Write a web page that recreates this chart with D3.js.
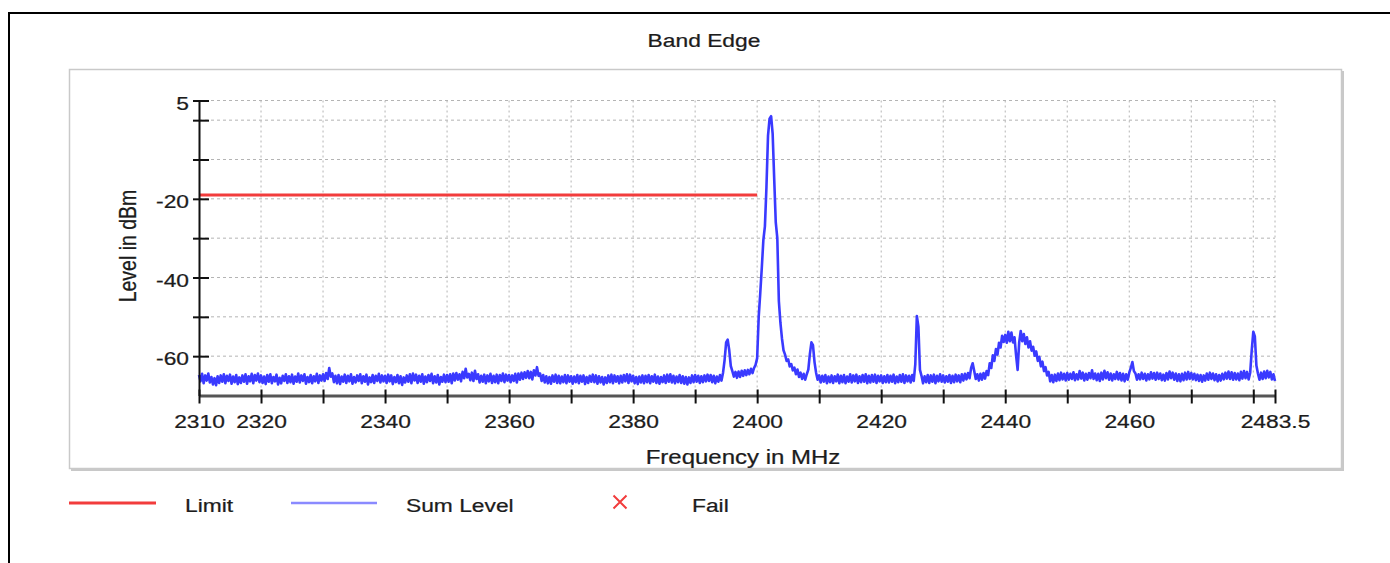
<!DOCTYPE html>
<html>
<head>
<meta charset="utf-8">
<script src="https://cdn.jsdelivr.net/npm/d3@7/dist/d3.min.js"></script>
<style>
  html, body { margin: 0; padding: 0; background: #fff; }
  svg { display: block; }
  text { font-family: "Liberation Sans", Arial, sans-serif; fill: #1c1c1c; stroke: #1c1c1c; stroke-width: 0.25px; }
</style>
</head>
<body>
<svg id="chart" width="1390" height="563"></svg>
<script>
// ---- Sweep data: Sum Level (dBm), one value every 0.25 MHz from 2310 to 2483.5 MHz ----
const startMHz = 2310;
const stepMHz = 0.25;
const sumLevel = [
  // 2310
  -64.8,-66.4,-64.5,-66.9,-64.9,-66.2,-64.4,-66.7,-65.3,-67.2,-65.6,-67.4,-65.1,-66.8,-64.9,-66.5,-64.6,-66.9,-65.0,-66.3,
  -64.7,-67.0,-65.2,-66.6,-64.8,-67.1,-65.4,-66.8,-64.9,-66.5,-64.6,-67.0,-65.1,-66.4,-64.5,-66.9,-64.8,-66.2,-64.4,-66.6,
  // 2320
  -64.9,-66.8,-65.2,-67.1,-64.8,-66.5,-64.6,-66.9,-65.3,-66.4,-64.7,-67.2,-65.5,-66.9,-65.0,-66.3,-64.6,-66.8,-65.1,-66.6,
  -64.7,-67.0,-65.2,-66.5,-64.4,-66.7,-64.9,-66.3,-64.6,-67.0,-65.3,-66.6,-64.8,-66.9,-65.1,-66.4,-64.5,-66.8,-64.9,-66.2,
  // 2330
  -64.6,-66.3,-64.3,-65.8,-63.0,-65.2,-64.4,-66.6,-65.0,-66.9,-64.8,-67.1,-65.2,-66.5,-64.7,-66.8,-65.0,-66.4,-64.6,-67.0,
  -65.3,-66.7,-64.9,-66.3,-64.6,-66.9,-65.1,-66.5,-64.7,-67.2,-65.4,-66.6,-64.8,-66.8,-65.0,-66.3,-64.5,-66.7,-64.9,-66.4,
  // 2340
  -65.0,-66.8,-64.7,-66.4,-64.9,-67.1,-65.3,-66.6,-64.8,-66.9,-65.1,-67.3,-65.4,-66.7,-64.9,-66.5,-64.6,-66.9,-64.4,-66.2,
  -64.7,-66.8,-65.0,-66.5,-64.6,-67.0,-65.2,-66.6,-64.8,-66.3,-64.5,-66.9,-65.1,-66.7,-64.8,-67.2,-65.3,-66.5,-64.7,-66.6,
  // 2350
  -64.8,-66.5,-64.6,-66.9,-64.4,-66.2,-64.3,-66.0,-64.6,-66.4,-64.0,-65.6,-63.2,-65.4,-64.5,-66.1,-64.2,-66.3,-63.7,-65.8,
  -64.6,-66.7,-65.0,-66.5,-64.7,-66.9,-64.9,-66.4,-64.5,-66.8,-65.0,-66.6,-64.7,-66.9,-64.8,-66.3,-64.4,-66.6,-64.7,-66.2,
  // 2360
  -64.8,-66.6,-64.9,-66.3,-64.5,-66.7,-64.4,-66.0,-64.2,-65.8,-64.1,-65.5,-63.8,-65.6,-64.0,-65.9,-63.6,-64.9,-62.8,-65.0,
  -64.4,-66.3,-64.8,-66.7,-65.1,-66.9,-65.3,-67.0,-64.9,-66.5,-64.7,-66.8,-65.0,-66.9,-65.2,-66.6,-64.8,-66.9,-64.9,-66.5,
  // 2370
  -65.1,-67.0,-65.2,-66.6,-64.8,-66.9,-65.0,-66.5,-64.9,-67.1,-65.3,-66.8,-65.0,-66.5,-64.7,-66.6,-64.9,-67.0,-65.1,-66.7,
  -65.3,-67.2,-65.4,-66.8,-64.9,-66.6,-64.7,-66.9,-64.9,-66.5,-65.1,-66.9,-65.0,-66.7,-64.8,-66.4,-64.6,-66.8,-64.7,-66.4,
  // 2380
  -65.0,-66.9,-65.3,-67.1,-65.2,-66.7,-64.9,-66.9,-65.0,-66.6,-64.8,-66.9,-65.1,-66.5,-64.7,-66.8,-65.2,-67.0,-65.3,-66.6,
  -64.9,-66.8,-64.7,-66.5,-64.6,-66.7,-65.0,-66.9,-65.2,-66.6,-64.8,-66.8,-65.1,-67.0,-65.3,-67.2,-65.4,-66.8,-64.9,-66.6,
  // 2390
  -64.8,-66.5,-65.0,-66.8,-65.1,-66.6,-64.9,-66.4,-64.7,-66.3,-64.8,-66.6,-65.0,-66.9,-65.2,-66.5,-64.8,-66.2,-64.2,-61.0,
  -56.5,-55.8,-58.5,-62.5,-63.8,-65.2,-64.0,-65.5,-63.9,-65.3,-63.7,-65.0,-63.6,-64.8,-63.5,-64.6,-63.2,-64.3,-63.0,-62.2,
  // 2400
  -60.5,-50.0,-44.0,-37.5,-30.5,-27.0,-17.0,-4.0,0.4,1.0,-3.5,-15.0,-26.0,-30.0,-46.0,-51.5,-55.5,-58.5,-59.6,-61.2,
  -60.8,-62.6,-62.0,-63.6,-62.9,-64.6,-63.4,-65.3,-64.2,-65.8,-64.5,-66.0,-64.6,-63.4,-59.5,-56.5,-57.2,-61.5,-64.2,-66.0,
  // 2410
  -64.9,-66.7,-65.0,-66.5,-64.8,-66.9,-65.2,-66.6,-64.9,-66.8,-65.1,-66.4,-64.7,-66.9,-65.0,-66.6,-64.8,-66.9,-65.2,-66.5,
  -64.6,-66.7,-64.9,-66.4,-64.7,-66.8,-65.1,-66.6,-64.8,-66.5,-64.6,-66.9,-65.0,-66.7,-64.8,-66.5,-64.7,-66.8,-65.0,-66.4,
  // 2420
  -64.9,-66.8,-65.1,-66.6,-64.8,-66.7,-65.0,-66.5,-64.7,-66.9,-65.2,-66.6,-64.8,-66.5,-64.6,-66.8,-64.9,-66.4,-65.0,-66.7,
  -64.8,-66.3,-62.0,-49.8,-52.5,-63.5,-65.0,-66.9,-65.1,-66.6,-64.8,-66.8,-64.9,-66.5,-64.7,-66.9,-65.0,-66.4,-64.6,-66.5,
  // 2430
  -64.9,-66.7,-65.1,-66.5,-64.8,-66.8,-65.0,-66.6,-64.7,-66.4,-64.9,-66.6,-64.6,-66.2,-64.5,-65.9,-64.3,-65.6,-63.0,-61.8,
  -63.8,-65.8,-64.6,-66.2,-64.5,-66.0,-64.3,-65.7,-63.8,-64.8,-61.8,-63.0,-59.8,-61.2,-58.2,-59.6,-56.6,-57.8,-54.8,-56.4,
  // 2440
  -54.6,-56.6,-53.8,-56.2,-54.0,-56.5,-55.2,-59.8,-63.5,-56.5,-53.6,-56.2,-54.4,-56.9,-55.2,-57.8,-56.2,-58.6,-57.6,-59.9,
  -58.8,-61.2,-60.2,-62.6,-61.4,-63.8,-62.8,-64.9,-64.0,-66.4,-64.8,-66.6,-64.7,-66.3,-64.4,-66.1,-64.2,-65.9,-64.5,-66.2,
  // 2450
  -64.3,-66.0,-64.5,-65.8,-64.1,-66.1,-64.6,-65.9,-63.8,-65.7,-64.2,-66.2,-64.5,-66.0,-64.3,-65.6,-63.6,-65.8,-64.4,-66.1,
  -64.5,-66.3,-64.2,-65.9,-63.7,-65.6,-64.1,-66.0,-64.4,-66.2,-64.6,-65.8,-64.0,-65.9,-64.3,-66.2,-64.5,-66.4,-64.6,-66.0,
  // 2460
  -64.2,-63.0,-61.5,-63.8,-64.4,-66.0,-64.6,-65.9,-64.2,-65.8,-64.5,-66.2,-64.6,-65.9,-64.1,-65.7,-64.3,-66.0,-64.2,-65.8,
  -64.4,-66.1,-64.7,-66.2,-64.3,-65.9,-63.9,-65.6,-64.2,-66.0,-64.4,-66.3,-64.6,-66.4,-64.5,-66.1,-64.2,-65.9,-64.0,-65.8,
  // 2470
  -64.3,-65.9,-64.5,-66.1,-64.7,-66.3,-64.8,-66.5,-64.9,-66.2,-64.4,-66.0,-64.2,-65.8,-64.4,-66.1,-64.6,-66.4,-64.8,-66.2,
  -64.5,-65.9,-64.2,-65.7,-63.9,-65.8,-64.1,-66.0,-64.3,-65.9,-64.4,-66.1,-64.0,-65.7,-63.8,-65.6,-64.0,-65.9,-64.2,-58.5,
  // 2480 .. 2483.5
  -53.8,-55.0,-62.4,-64.4,-66.0,-64.2,-65.8,-63.9,-65.6,-63.7,-65.4,-64.0,-65.9,-64.6,-66.3
];

// ---- Limit line (dBm) ----
const limitFreq = [2310, 2400];
const limitLevel = [-19.0, -19.0];

// ---- Axes ----
const xDomain = [2310, 2483.5];
const yDomain = [-70, 5];
const xTicks = [2310, 2320, 2330, 2340, 2350, 2360, 2370, 2380, 2390, 2400, 2410, 2420, 2430, 2440, 2450, 2460, 2470, 2480, 2483.5];
const xTickLabels = ["2310", "2320", "", "2340", "", "2360", "", "2380", "", "2400", "", "2420", "", "2440", "", "2460", "", "", "2483.5"];
const yTicks = [5, 0, -10, -20, -30, -40, -50, -60];
const yTickLabels = ["5", "", "", "-20", "", "-40", "", "-60"];

// ---- Text ----
const titleText = "Band Edge";
const xTitle = "Frequency in MHz";
const yTitle = "Level in dBm";
const legendItems = ["Limit", "Sum Level", "Fail"];

// ---- Drawing ----
const svg = d3.select("#chart");
const SX = 1.2;              // horizontal glyph stretch
const RED = "#f23c3c";
const BLUE = "#3a3aff";

const x = d3.scaleLinear().domain(xDomain).range([199, 1275]);
const y = d3.scaleLinear().domain(yDomain).range([395.5, 100.5]);

function label(g, px, py, str, anchor, size, rotate) {
  return g.append("text")
    .attr("transform", `translate(${px},${py}) scale(${SX},1)` + (rotate ? ` rotate(${rotate})` : ""))
    .attr("text-anchor", anchor)
    .attr("dominant-baseline", "central")
    .style("font-size", size + "px")
    .text(str);
}

// outer frame
svg.append("line").attr("x1", 8).attr("x2", 1390).attr("y1", 13).attr("y2", 13)
  .attr("stroke", "#000").attr("stroke-width", 2);
svg.append("line").attr("x1", 9).attr("x2", 9).attr("y1", 12).attr("y2", 563)
  .attr("stroke", "#000").attr("stroke-width", 2);

// panel with soft shadow on right/bottom
svg.append("rect").attr("x", 71).attr("y", 71).attr("width", 1273).attr("height", 400)
  .attr("fill", "#c8c8c8");
svg.append("rect").attr("x", 69.5).attr("y", 69.5).attr("width", 1272).attr("height", 399)
  .attr("fill", "#fff").attr("stroke", "#c9c9c9").attr("stroke-width", 1.5);

// title
label(svg, 704, 40, titleText, "middle", 19);

// grid
const grid = svg.append("g").attr("stroke", "#b4b4b4").attr("stroke-width", 1);
grid.selectAll("line.h").data(yTicks).join("line").attr("class", "h")
  .attr("x1", x(xDomain[0])).attr("x2", x(xDomain[1]))
  .attr("y1", d => y(d)).attr("y2", d => y(d))
  .attr("stroke-dasharray", "3,3");
grid.selectAll("line.v").data(xTicks.slice(1)).join("line").attr("class", "v")
  .attr("x1", d => x(d)).attr("x2", d => x(d))
  .attr("y1", y(yDomain[1])).attr("y2", y(yDomain[0]))
  .attr("stroke-dasharray", "2,3");

// limit line
const limitData = limitFreq.map((f, i) => [f, limitLevel[i]]);
svg.append("path").datum(limitData)
  .attr("d", d3.line().x(d => x(d[0])).y(d => y(d[1])))
  .attr("fill", "none").attr("stroke", RED).attr("stroke-width", 3);

// sum level trace
const trace = sumLevel.map((v, i) => [startMHz + i * stepMHz, v]);
svg.append("path").datum(trace)
  .attr("d", d3.line().x(d => x(d[0])).y(d => y(d[1])))
  .attr("fill", "none").attr("stroke", BLUE).attr("stroke-width", 2.6)
  .attr("stroke-linejoin", "round");

// x axis
const gx = svg.append("g").attr("transform", `translate(0,${y(yDomain[0])})`)
  .call(d3.axisBottom(x).tickValues(xTicks).tickFormat((d, i) => xTickLabels[i]).tickSizeOuter(0));
gx.select(".domain").attr("stroke", "#555").attr("stroke-width", 3);
gx.selectAll(".tick line").attr("y1", -6).attr("y2", 8).attr("stroke", "#111").attr("stroke-width", 2);
gx.selectAll(".tick text").attr("x", null).attr("y", null).attr("dy", null)
  .attr("transform", `translate(0,26) scale(${SX},1)`)
  .attr("dominant-baseline", "central")
  .style("font-size", "19px").attr("fill", "#1c1c1c");

// y axis
const gy = svg.append("g").attr("transform", `translate(${x(xDomain[0])},0)`)
  .call(d3.axisLeft(y).tickValues(yTicks).tickFormat((d, i) => yTickLabels[i]).tickSizeOuter(0));
gy.select(".domain").attr("stroke", "#111").attr("stroke-width", 2);
gy.selectAll(".tick line").attr("x1", -6).attr("x2", 10).attr("stroke", "#111").attr("stroke-width", 2);
gy.selectAll(".tick text").attr("x", null).attr("dy", null)
  .attr("transform", `translate(-10,2) scale(${SX},1)`)
  .attr("text-anchor", "end")
  .attr("dominant-baseline", "central")
  .style("font-size", "19px").attr("fill", "#1c1c1c");

// axis titles
label(svg, 743, 457, xTitle, "middle", 20);
label(svg, 128, 246, yTitle, "middle", 19.5, -90);

// legend
const lg = svg.append("g");
lg.append("line").attr("x1", 69).attr("x2", 156).attr("y1", 503).attr("y2", 503)
  .attr("stroke", RED).attr("stroke-width", 3);
label(lg, 185, 505, legendItems[0], "start", 19);
lg.append("line").attr("x1", 291).attr("x2", 377).attr("y1", 503).attr("y2", 503)
  .attr("stroke", "#8a8aff").attr("stroke-width", 2.5);
label(lg, 406, 505, legendItems[1], "start", 19);
const fx = 620, fy = 502, fr = 6.5;
lg.append("path").attr("d", `M${fx - fr},${fy - fr}L${fx + fr},${fy + fr}M${fx - fr},${fy + fr}L${fx + fr},${fy - fr}`)
  .attr("stroke", RED).attr("stroke-width", 2).attr("fill", "none");
label(lg, 692, 505, legendItems[2], "start", 19);
</script>
</body>
</html>
